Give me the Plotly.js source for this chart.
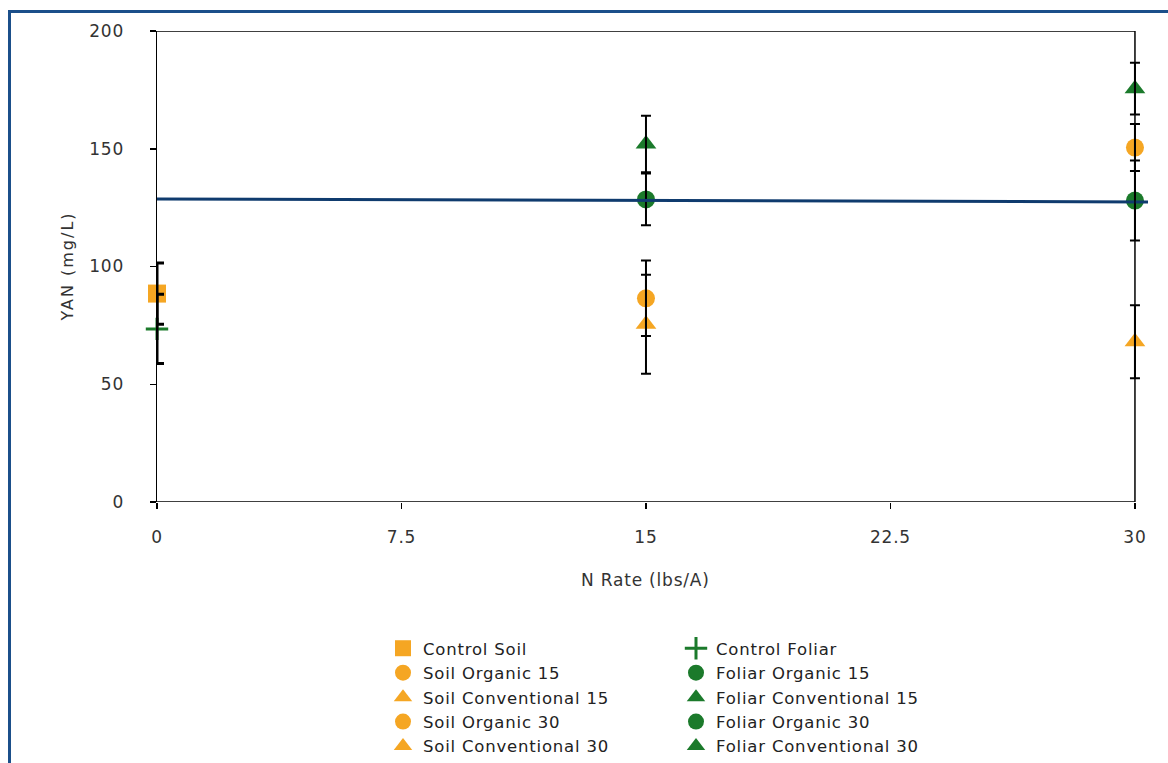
<!DOCTYPE html>
<html>
<head>
<meta charset="utf-8">
<script src="https://cdn.plot.ly/plotly-3.0.1.min.js"></script>
<style>
html,body{margin:0;padding:0;background:#fff;overflow:hidden;}
#chart{width:1168px;height:763px;position:absolute;left:0;top:0;}
#frame{position:absolute;left:8px;top:10px;width:1200px;height:800px;border-left:3px solid #1B4F8A;border-top:3px solid #1B4F8A;pointer-events:none;}
text{letter-spacing:0.8px;}
#chart g.annotation[data-index="1"] text{letter-spacing:2px;}
</style>
</head>
<body>
<div id="chart"></div>
<div id="frame"></div>
<script>
// ---- data ----
const seriesNames = ["Control Soil","Soil Organic 15","Soil Conventional 15","Soil Organic 30","Soil Conventional 30",
                     "Control Foliar","Foliar Organic 15","Foliar Conventional 15","Foliar Organic 30","Foliar Conventional 30"];
const nRate   = [0, 15, 15, 30, 30, 0, 15, 15, 30, 30];
const yanMean = [88.5, 86.5, 75.5, 150.5, 68, 73.5, 128.5, 152, 128, 175.5];
const yanErr  = [13, 16, 21, 10, 15.5, 14.7, 11, 12, 17, 11];
const trendX  = [0, 30.4];
const trendY  = [128.7, 127.4];
const xTicks  = [0, 7.5, 15, 22.5, 30];
const xTickLabels = ["0", "7.5", "15", "22.5", "30"];
const yTicks  = [0, 50, 100, 150, 200];

// ---- styles ----
const ORANGE = "#F5A623", GREEN = "#1B7A2B";
const styles = [
  {color: ORANGE, symbol: "square", legend: "legend"},
  {color: ORANGE, symbol: "circle", legend: "legend"},
  {color: ORANGE, symbol: "triangle-up", legend: "legend"},
  {color: ORANGE, symbol: "circle", legend: "legend"},
  {color: ORANGE, symbol: "triangle-up", legend: "legend"},
  {color: GREEN, symbol: "cross-thin", legend: "legend2"},
  {color: GREEN, symbol: "circle", legend: "legend2"},
  {color: GREEN, symbol: "triangle-up", legend: "legend2"},
  {color: GREEN, symbol: "circle", legend: "legend2"},
  {color: GREEN, symbol: "triangle-up", legend: "legend2"}
];

const traces = [];
seriesNames.forEach((name, i) => {
  const s = styles[i];
  const m = {color: s.color, symbol: s.symbol, size: 18};
  if (s.symbol === "cross-thin") { m.line = {color: s.color, width: 3}; m.size = 16; }
  traces.push({
    type: "scatter", mode: "markers", name: name,
    x: [nRate[i]], y: [yanMean[i]],
    marker: m, legend: s.legend, cliponaxis: false, hoverinfo: "name+y"
  });
});
// error bars drawn on top of all markers
seriesNames.forEach((name, i) => {
  const ctrl = nRate[i] === 0;
  traces.push({
    type: "scatter", mode: "markers", showlegend: false, hoverinfo: "skip",
    x: [nRate[i]], y: [yanMean[i]],
    marker: {size: 1, opacity: 0},
    error_y: {type: "data", array: [yanErr[i]], visible: true, color: "#000",
              thickness: ctrl ? 3 : 2, width: ctrl ? 7 : 5},
    cliponaxis: false
  });
});
traces.push({
  type: "scatter", mode: "lines", showlegend: false, hoverinfo: "skip",
  x: trendX, y: trendY, line: {color: "#0F3B6E", width: 3}
});

const FONT = "DejaVu Sans, Verdana, sans-serif";
const layout = {
  width: 1168, height: 763,
  margin: {l: 157, r: 20, t: 31, b: 261, pad: 0, autoexpand: false},
  paper_bgcolor: "#fff", plot_bgcolor: "#fff",
  showlegend: true,
  xaxis: {
    range: [0, 30.4], tickvals: xTicks, ticktext: xTickLabels,
    showgrid: false, zeroline: false, showline: false,
    ticks: "outside", ticklen: 6, tickwidth: 1.5, tickcolor: "#000",
    ticklabelstandoff: 14, tickangle: 0, automargin: false,
    tickfont: {family: FONT, size: 17, color: "#333"}
  },
  yaxis: {
    range: [0, 200], tickvals: yTicks,
    showgrid: false, zeroline: false, showline: true, linecolor: "#000", linewidth: 1.5,
    ticks: "outside", ticklen: 6, tickwidth: 1.5, tickcolor: "#000",
    ticklabelstandoff: 22, automargin: false,
    tickfont: {family: FONT, size: 17, color: "#333"}
  },
  shapes: [
    {type: "line", xref: "x", yref: "y", x0: 0, x1: 30, y0: 0, y1: 0, line: {color: "#000", width: 1.5}},
    {type: "line", xref: "x", yref: "y", x0: 0, x1: 30, y0: 200, y1: 200, line: {color: "#000", width: 1.5}},
    {type: "line", xref: "x", yref: "y", x0: 30, x1: 30, y0: 0, y1: 200, line: {color: "#000", width: 1.5}}
  ],
  annotations: [
    {text: "N Rate (lbs/A)", xref: "x", yref: "paper", x: 15, y: 0, yshift: -78, yanchor: "middle", xanchor: "center",
     showarrow: false, font: {family: FONT, size: 17, color: "#333"}},
    {text: "YAN (mg/L)", xref: "paper", yref: "paper", x: 0, xshift: -90, y: 0.5, textangle: -90,
     xanchor: "center", yanchor: "middle",
     showarrow: false, font: {family: FONT, size: 16, color: "#333"}}
  ],
  legend: {
    xref: "container", yref: "container", x: 383/1168, y: 1 - 631/763,
    xanchor: "left", yanchor: "top", orientation: "v", bgcolor: "rgba(0,0,0,0)",
    font: {family: FONT, size: 16.5, color: "#222"}, tracegroupgap: 0
  },
  legend2: {
    xref: "container", yref: "container", x: 676/1168, y: 1 - 631/763,
    xanchor: "left", yanchor: "top", orientation: "v", bgcolor: "rgba(0,0,0,0)",
    font: {family: FONT, size: 16.5, color: "#222"}, tracegroupgap: 0
  }
};

Plotly.newPlot("chart", traces, layout, {displayModeBar: false, staticPlot: true});
</script>
</body>
</html>
